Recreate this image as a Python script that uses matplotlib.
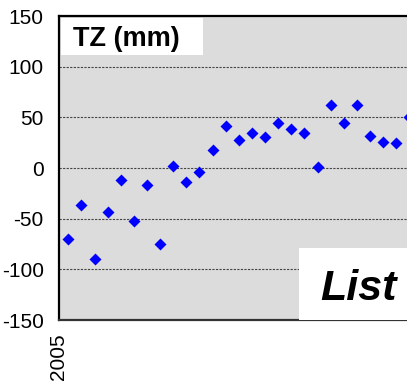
import matplotlib.pyplot as plt
from matplotlib.patches import Rectangle

plt.rcParams['font.family'] = ['Liberation Sans', 'DejaVu Sans']

# TZ values (mm), one per epoch
tz = [-70, -37, -90, -43, -12, -52, -17, -75, 2, -14, -4, 18, 41, 28,
      35, 31, 44, 38, 35, 1, 62, 44, 62, 32, 26, 25, 50]
epoch = list(range(len(tz)))
yticks = [-150, -100, -50, 0, 50, 100, 150]
xtick_label = "2005"

fig = plt.figure(figsize=(4.07, 3.82), dpi=100)
ax = fig.add_axes([59 / 407, 62 / 382, 348 / 407, 304 / 382])
ax.set_facecolor('#dcdcdc')

ax.set_xlim(-0.71, 25.82)
ax.set_ylim(-150, 150)

for v in yticks[1:-1]:
    ax.axhline(v, color='#444444', lw=0.8, ls=(0, (2, 1.2)), zorder=1)

ax.plot(epoch, tz, ls='none', marker='D', ms=6, color='#0000ff',
        mec='none', zorder=4)

# label boxes
ax.add_patch(Rectangle((0.006, 0.872), 0.408, 0.121, transform=ax.transAxes,
                       facecolor='white', edgecolor='none', zorder=3))
ax.add_patch(Rectangle((0.690, 0.0), 0.31, 0.237, transform=ax.transAxes,
                       facecolor='white', edgecolor='none', zorder=3))
ax.text(0.040, 0.902, "TZ (mm)", transform=ax.transAxes, fontsize=19.5,
        fontweight='bold', va='baseline', ha='left', zorder=5)
ax.text(0.75, 0.066, "List", transform=ax.transAxes, fontsize=31,
        fontweight='bold', style='italic', va='baseline', ha='left', zorder=5)

ax.set_yticks(yticks)
ax.set_yticklabels([str(v) for v in yticks])
ax.set_xticks([-0.71])
ax.set_xticklabels([xtick_label], rotation=90)
ax.tick_params(axis='both', length=0, labelsize=15)
ax.tick_params(axis='y', pad=11)
ax.tick_params(axis='x', pad=9.5)

for s in ['left', 'top']:
    ax.spines[s].set_linewidth(1.6)
    ax.spines[s].set_color('black')
ax.spines['bottom'].set_linewidth(1.6)
ax.spines['bottom'].set_color('#333333')
ax.spines['right'].set_visible(False)

fig.savefig('out.png', dpi=100)
